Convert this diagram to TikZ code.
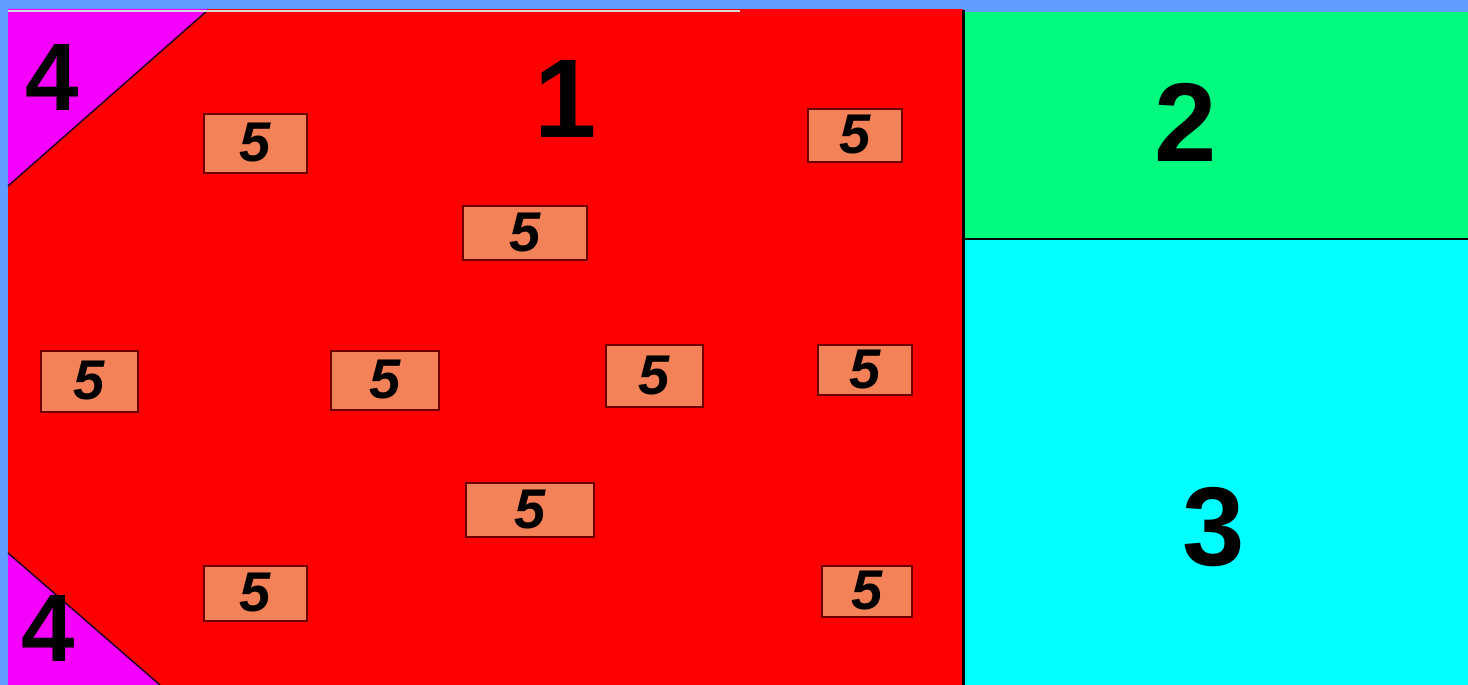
\documentclass[tikz,border=0pt]{standalone}
\usepackage{fontspec}
\setmainfont{Liberation Sans}
\definecolor{bgblue}{RGB}{95,157,255}
\definecolor{zonered}{RGB}{255,0,0}
\definecolor{zonegreen}{RGB}{0,250,125}
\definecolor{zonecyan}{RGB}{0,255,255}
\definecolor{zonepink}{RGB}{245,0,250}
\definecolor{tagfill}{RGB}{244,130,88}
\definecolor{tagline}{RGB}{110,0,0}
\tikzset{
  tag/.style={draw=tagline, line width=2pt, fill=tagfill, inner sep=0pt,
    font=\fontsize{56}{56}\selectfont\bfseries\itshape},
  zonelabel/.style={font=\fontsize{112}{112}\selectfont\bfseries},
  cornerlabel/.style={inner sep=0pt, text depth=0pt,
    font=\fontsize{96}{96}\selectfont\bfseries}
}
\begin{document}
\begin{tikzpicture}[x=1pt,y=-1pt]
\fill[bgblue] (0,0) rectangle (1468,685);
\useasboundingbox (0,0) rectangle (1468,685);
\fill[zonered] (8,9) rectangle (963,685);
\fill[zonegreen] (963,12) rectangle (1468,239);
\fill[zonecyan] (963,239) rectangle (1468,685);
\fill[zonepink] (8,9) -- (208,9) -- (8,186) -- cycle;
\fill[zonepink] (8,553) -- (160,685) -- (8,685) -- cycle;
\draw[line width=1.5pt, black!70!violet] (208,10) -- (8,186);
\draw[line width=1.5pt, black!70!violet] (8,553) -- (160,685);
\draw[line width=3pt] (963,10) -- (963,685);
\draw[line width=2.5pt] (963,239) -- (1468,239);
\draw[line width=1.5pt, white!70!gray] (8,11) -- (740,11);
\node[zonelabel] (one) at (566,99) {1};
\node[zonelabel] (two) at (1186,122) {2};
\node[zonelabel] (three) at (1214,527) {3};
\node[cornerlabel] (fourtop) at (52,77) {4};
\node[cornerlabel] (fourbot) at (48,628) {4};
\node[tag, minimum width=103pt, minimum height=59pt] (t1) at (255,143) {5};
\node[tag, minimum width=94pt, minimum height=53pt] (t2) at (855,135) {5};
\node[tag, minimum width=124pt, minimum height=54pt] (t3) at (525,233) {5};
\node[tag, minimum width=97pt, minimum height=61pt] (t4) at (89,381) {5};
\node[tag, minimum width=108pt, minimum height=59pt] (t5) at (385,380) {5};
\node[tag, minimum width=97pt, minimum height=62pt] (t6) at (654,376) {5};
\node[tag, minimum width=94pt, minimum height=50pt] (t7) at (865,370) {5};
\node[tag, minimum width=128pt, minimum height=54pt] (t8) at (530,510) {5};
\node[tag, minimum width=103pt, minimum height=55pt] (t9) at (255,593) {5};
\node[tag, minimum width=90pt, minimum height=51pt] (t10) at (867,591) {5};
\end{tikzpicture}
\end{document}
